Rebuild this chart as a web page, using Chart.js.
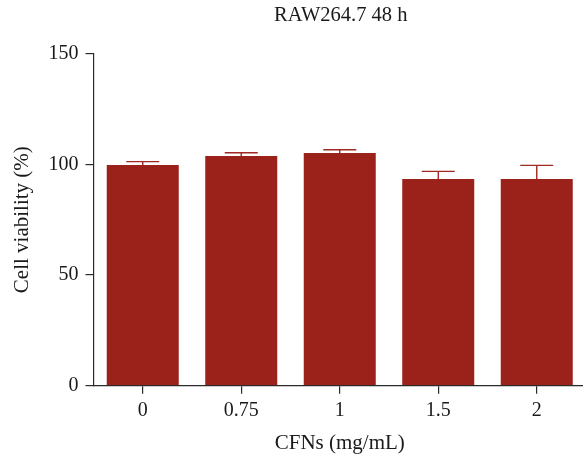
<!DOCTYPE html>
<html>
<head>
<meta charset="utf-8">
<script src="https://cdn.jsdelivr.net/npm/chart.js@4.4.0/dist/chart.umd.min.js"></script>
<style>
  html, body { margin: 0; padding: 0; background: #ffffff; overflow: hidden; }
  #wrap { width: 583px; height: 461px; position: relative; overflow: hidden; }
</style>
</head>
<body>
<div id="wrap"><canvas id="c" width="586" height="461"></canvas></div>
<script>
const chartTitle = 'RAW264.7 48 h';
const categories = ['0', '0.75', '1', '1.5', '2'];
const viability = [99.7, 103.8, 105.1, 93.4, 93.4];
const errorUp = [1.5, 1.4, 1.5, 3.4, 6.1];
const yMin = 0, yMax = 150, yStep = 50;
const xTitle = 'CFNs (mg/mL)';
const yTitle = 'Cell viability (%)';

const FONT = "'Liberation Serif', 'DejaVu Serif', serif";
const BAR = '#9b211b';
const AXIS = '#2b2b2b';

const errorBars = {
  id: 'errorBars',
  afterDatasetsDraw(chart) {
    const ctx = chart.ctx;
    const meta = chart.getDatasetMeta(0);
    const y = chart.scales.y;
    ctx.save();
    ctx.strokeStyle = '#a02a22';
    ctx.lineWidth = 1.4;
    meta.data.forEach((bar, i) => {
      const x = bar.x;
      const yTop = y.getPixelForValue(viability[i]);
      const yErr = y.getPixelForValue(viability[i] + errorUp[i]);
      ctx.beginPath();
      ctx.moveTo(x, yTop);
      ctx.lineTo(x, yErr);
      ctx.moveTo(x - 16.5, yErr);
      ctx.lineTo(x + 16.5, yErr);
      ctx.stroke();
    });
    ctx.restore();
  }
};

const topTitle = {
  id: 'topTitle',
  afterDraw(chart) {
    const ctx = chart.ctx;
    const a = chart.chartArea;
    ctx.save();
    ctx.font = '20.5px ' + FONT;
    ctx.fillStyle = '#1a1a1a';
    ctx.textAlign = 'center';
    ctx.textBaseline = 'middle';
    ctx.fillText(chartTitle, (a.left + a.right) / 2 + 1, 16);
    ctx.restore();
  }
};

new Chart(document.getElementById('c'), {
  type: 'bar',
  data: {
    labels: categories,
    datasets: [{
      data: viability,
      backgroundColor: BAR,
      borderWidth: 0,
      barPercentage: 0.731,
      categoryPercentage: 1.0
    }]
  },
  options: {
    responsive: false,
    animation: false,
    devicePixelRatio: 1,
    layout: { padding: { top: 53.6, right: 0, left: 0, bottom: 0 } },
    plugins: { legend: { display: false }, tooltip: { enabled: false }, title: { display: false } },
    scales: {
      x: {
        offset: true,
        grid: { display: true, drawOnChartArea: false, drawTicks: true, tickLength: 8, offset: false, color: AXIS, lineWidth: 1.2 },
        border: { display: true, color: AXIS, width: 1.2 },
        ticks: { color: '#1a1a1a', font: { family: FONT, size: 20 }, padding: 5, maxRotation: 0 },
        title: { display: true, text: xTitle, color: '#1a1a1a', font: { family: FONT, size: 21 }, padding: { top: 0, bottom: 5 } },
        afterFit(s) { s.height = 75.3; }
      },
      y: {
        min: yMin, max: yMax,
        grid: { display: true, drawOnChartArea: false, drawTicks: true, tickLength: 8, color: AXIS, lineWidth: 1.2 },
        border: { display: true, color: AXIS, width: 1.2 },
        ticks: { stepSize: yStep, color: '#1a1a1a', font: { family: FONT, size: 20 }, padding: 7 },
        title: { display: true, text: yTitle, color: '#1a1a1a', font: { family: FONT, size: 21 }, padding: { top: 10, bottom: 0 } },
        afterFit(s) { s.width = 93.5; }
      }
    }
  },
  plugins: [errorBars, topTitle]
});
</script>
</body>
</html>
